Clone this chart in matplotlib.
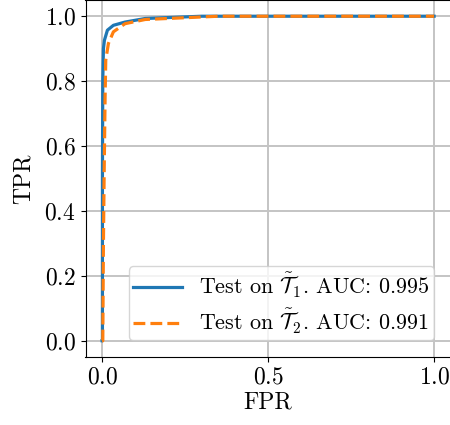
import matplotlib
matplotlib.use("Agg")
import matplotlib.pyplot as plt

plt.rcParams['font.family'] = 'serif'
plt.rcParams['font.serif'] = ['cmr10']
plt.rcParams['mathtext.fontset'] = 'cm'
plt.rcParams['axes.formatter.use_mathtext'] = True

# ROC points
fpr_1 = [0.0, 0.001, 0.001, 0.002, 0.004, 0.007, 0.016, 0.034, 0.069, 0.13, 0.3, 1.0]
tpr_1 = [0.0, 0.0, 0.5, 0.8, 0.9, 0.926, 0.957, 0.972, 0.982, 0.993, 1.0, 1.0]
fpr_2 = [0.0, 0.002, 0.004, 0.006, 0.009, 0.011, 0.019, 0.034, 0.069, 0.13, 0.35, 1.0]
tpr_2 = [0.0, 0.0, 0.3, 0.5, 0.75, 0.865, 0.916, 0.952, 0.977, 0.99, 1.0, 1.0]
auc_1 = 0.995
auc_2 = 0.991

fig = plt.figure(figsize=(4.5, 4.25), dpi=100)
ax = fig.add_axes([0.19, 0.16, 0.8116, 0.84])

ax.plot(fpr_1, tpr_1, color='#1f77b4', lw=2.3,
        label=r'Test on $\tilde{\mathcal{T}}_1$. AUC: ' + '{:.3f}'.format(auc_1))
ax.plot(fpr_2, tpr_2, color='#ff7f0e', lw=2.3, ls='--',
        label=r'Test on $\tilde{\mathcal{T}}_2$. AUC: ' + '{:.3f}'.format(auc_2))

ax.set_xlim(-0.05, 1.05)
ax.set_ylim(-0.05, 1.05)
ax.set_xticks([0.0, 0.5, 1.0])
ax.set_yticks([0.0, 0.2, 0.4, 0.6, 0.8, 1.0])
ax.tick_params(labelsize=17)
ax.set_xlabel('FPR', fontsize=17, labelpad=2)
ax.set_ylabel('TPR', fontsize=17, labelpad=7)
ax.grid(True, color='#c4c4c4', lw=1.4)
ax.legend(loc='lower right', fontsize=15.9, labelspacing=0.3,
          borderpad=0.2, borderaxespad=0.75, handlelength=2.2)

fig.savefig('out.png', dpi=100)
